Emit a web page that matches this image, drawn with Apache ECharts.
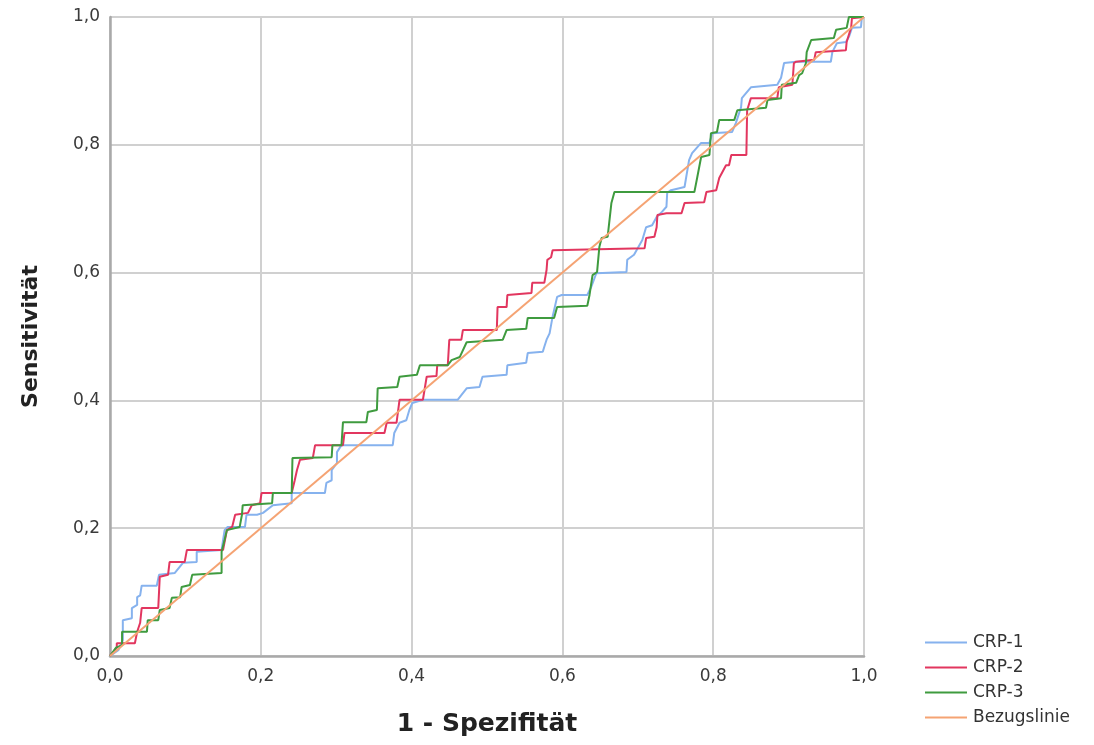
<!DOCTYPE html>
<html>
<head>
<meta charset="utf-8">
<script src="https://cdn.jsdelivr.net/npm/echarts@6/dist/echarts.min.js"></script>
<style>
  html, body { margin: 0; padding: 0; background: #fff; }
  #chart { width: 1094px; height: 745px; }
</style>
</head>
<body>
<div id="chart"></div>
<script>
// ROC points: [1 - Spezifität, Sensitivität]
const crp1 = [
    [0, 0], [0.011, 0.009], [0.017, 0.025], [0.017, 0.056], [0.029, 0.059], [0.029, 0.075],
    [0.036, 0.080], [0.036, 0.092], [0.040, 0.095], [0.042, 0.110], [0.062, 0.110], [0.065, 0.127],
    [0.086, 0.130], [0.097, 0.146], [0.115, 0.147], [0.115, 0.163], [0.148, 0.166], [0.152, 0.197],
    [0.156, 0.202], [0.179, 0.202], [0.181, 0.221], [0.195, 0.221], [0.203, 0.224], [0.216, 0.236],
    [0.241, 0.239], [0.241, 0.255], [0.285, 0.255], [0.287, 0.271], [0.294, 0.275], [0.294, 0.291],
    [0.301, 0.302], [0.301, 0.319], [0.307, 0.330], [0.375, 0.330], [0.377, 0.349], [0.384, 0.365],
    [0.393, 0.369], [0.397, 0.385], [0.401, 0.396], [0.415, 0.401], [0.461, 0.401], [0.473, 0.419],
    [0.490, 0.421], [0.494, 0.437], [0.526, 0.440], [0.527, 0.455], [0.552, 0.459], [0.554, 0.474],
    [0.574, 0.476], [0.576, 0.484], [0.579, 0.495], [0.583, 0.505], [0.587, 0.531], [0.593, 0.562],
    [0.599, 0.565], [0.633, 0.565], [0.638, 0.577], [0.645, 0.599], [0.685, 0.601], [0.686, 0.620],
    [0.695, 0.628], [0.706, 0.651], [0.711, 0.671], [0.719, 0.674], [0.725, 0.687], [0.732, 0.695],
    [0.738, 0.703], [0.739, 0.725], [0.744, 0.729], [0.762, 0.734], [0.768, 0.776], [0.772, 0.787],
    [0.784, 0.803], [0.795, 0.803], [0.799, 0.818], [0.825, 0.820], [0.830, 0.834], [0.837, 0.859],
    [0.838, 0.873], [0.850, 0.890], [0.885, 0.894], [0.890, 0.905], [0.894, 0.928], [0.910, 0.930],
    [0.956, 0.930], [0.958, 0.945], [0.964, 0.959], [0.976, 0.961], [0.980, 0.969], [0.984, 0.983],
    [0.996, 0.984], [0.997, 0.998], [1, 1]
];

const crp2 = [
    [0, 0], [0.009, 0.013], [0.009, 0.020], [0.033, 0.020], [0.036, 0.038], [0.040, 0.052],
    [0.042, 0.075], [0.064, 0.075], [0.066, 0.124], [0.077, 0.127], [0.079, 0.147], [0.099, 0.147],
    [0.102, 0.166], [0.150, 0.166], [0.155, 0.197], [0.162, 0.202], [0.166, 0.221], [0.183, 0.224],
    [0.188, 0.236], [0.199, 0.239], [0.201, 0.255], [0.241, 0.255], [0.245, 0.275], [0.248, 0.291],
    [0.252, 0.307], [0.269, 0.310], [0.272, 0.330], [0.309, 0.330], [0.311, 0.349], [0.364, 0.349],
    [0.367, 0.365], [0.380, 0.365], [0.384, 0.401], [0.415, 0.401], [0.420, 0.437], [0.433, 0.438],
    [0.434, 0.455], [0.448, 0.455], [0.450, 0.495], [0.466, 0.495], [0.468, 0.510], [0.513, 0.510],
    [0.514, 0.546], [0.526, 0.546], [0.527, 0.565], [0.559, 0.568], [0.560, 0.584], [0.576, 0.584],
    [0.579, 0.604], [0.580, 0.620], [0.585, 0.624], [0.587, 0.635], [0.709, 0.638], [0.711, 0.654],
    [0.722, 0.656], [0.725, 0.671], [0.726, 0.690], [0.738, 0.693], [0.758, 0.693], [0.762, 0.709],
    [0.788, 0.710], [0.791, 0.726], [0.804, 0.729], [0.808, 0.748], [0.817, 0.768], [0.821, 0.768],
    [0.824, 0.784], [0.844, 0.784], [0.845, 0.854], [0.850, 0.873], [0.885, 0.873], [0.887, 0.890],
    [0.905, 0.894], [0.907, 0.928], [0.910, 0.930], [0.934, 0.933], [0.936, 0.945], [0.976, 0.948],
    [0.977, 0.961], [0.983, 0.984], [0.984, 0.998], [1, 1]
];

const crp3 = [
    [0, 0], [0.008, 0.013], [0.016, 0.017], [0.016, 0.038], [0.049, 0.038], [0.050, 0.056],
    [0.064, 0.056], [0.066, 0.072], [0.079, 0.075], [0.082, 0.091], [0.093, 0.092], [0.095, 0.108],
    [0.106, 0.111], [0.109, 0.127], [0.148, 0.130], [0.148, 0.163], [0.152, 0.182], [0.155, 0.197],
    [0.172, 0.202], [0.175, 0.221], [0.176, 0.236], [0.215, 0.239], [0.216, 0.255], [0.241, 0.255],
    [0.242, 0.310], [0.294, 0.311], [0.295, 0.330], [0.307, 0.330], [0.309, 0.366], [0.340, 0.366],
    [0.342, 0.382], [0.354, 0.385], [0.355, 0.419], [0.381, 0.421], [0.384, 0.437], [0.407, 0.440],
    [0.411, 0.455], [0.448, 0.455], [0.453, 0.463], [0.464, 0.468], [0.473, 0.491], [0.521, 0.495],
    [0.526, 0.510], [0.552, 0.512], [0.554, 0.529], [0.589, 0.529], [0.593, 0.546], [0.633, 0.548],
    [0.636, 0.565], [0.638, 0.581], [0.640, 0.596], [0.646, 0.601], [0.649, 0.640], [0.652, 0.654],
    [0.660, 0.656], [0.665, 0.709], [0.669, 0.726], [0.775, 0.726], [0.779, 0.750], [0.784, 0.781],
    [0.795, 0.784], [0.797, 0.818], [0.805, 0.820], [0.808, 0.839], [0.828, 0.839], [0.832, 0.854],
    [0.870, 0.858], [0.872, 0.870], [0.890, 0.873], [0.891, 0.894], [0.910, 0.897], [0.914, 0.909],
    [0.918, 0.912], [0.923, 0.928], [0.924, 0.945], [0.930, 0.964], [0.960, 0.967], [0.963, 0.980],
    [0.977, 0.983], [0.980, 1.0], [1, 1]
];

const reference = [[0, 0], [1, 1]];

const seriesNames = ['CRP-1', 'CRP-2', 'CRP-3', 'Bezugslinie'];
const seriesColors = ['#86b2ee', '#e2365f', '#3f9b3f', '#f5a373'];
const seriesData = [crp1, crp2, crp3, reference];

const axisTicks = [0, 0.2, 0.4, 0.6, 0.8, 1.0];

const fmt = v => v.toFixed(1).replace('.', ',');

const chart = echarts.init(document.getElementById('chart'), null, { renderer: 'canvas' });

const valueAxis = (name, gap, titleSize, labelMargin) => ({
    type: 'value',
    min: axisTicks[0],
    max: axisTicks[axisTicks.length - 1],
    interval: 0.2,
    name: name,
    nameLocation: 'middle',
    nameGap: gap,
    nameTextStyle: { fontFamily: 'DejaVu Sans', fontWeight: 'bold', fontSize: titleSize, color: '#222' },
    axisLine: { show: true, lineStyle: { color: '#a9a9a9', width: 2.5 } },
    axisTick: { show: false },
    splitLine: { show: true, lineStyle: { color: '#d0d0d0', width: 2 } },
    axisLabel: {
        formatter: fmt,
        margin: labelMargin,
        fontFamily: 'DejaVu Sans',
        fontSize: 17,
        color: '#3a3a3a'
    }
});

chart.setOption({
    animation: false,
    backgroundColor: '#ffffff',
    grid: { left: 110, right: 230, top: 17, bottom: 89 },
    xAxis: valueAxis('1 - Spezifität', 56, 25, 12),
    yAxis: valueAxis('Sensitivität', 68, 22, 10),
    legend: {
        data: seriesNames,
        orient: 'vertical',
        left: 920,
        top: 629,
        icon: 'rect',
        itemWidth: 42,
        itemHeight: 2,
        itemGap: 8,
        textStyle: { fontFamily: 'DejaVu Sans', fontSize: 17, color: '#333', padding: [0, 0, 0, 1] }
    },
    series: seriesNames.map((name, i) => ({
        name: name,
        type: 'line',
        data: seriesData[i],
        symbol: 'none',
        z: 2 + i,
        lineStyle: { color: seriesColors[i], width: 2 },
        itemStyle: { color: seriesColors[i] }
    }))
});
</script>
</body>
</html>
